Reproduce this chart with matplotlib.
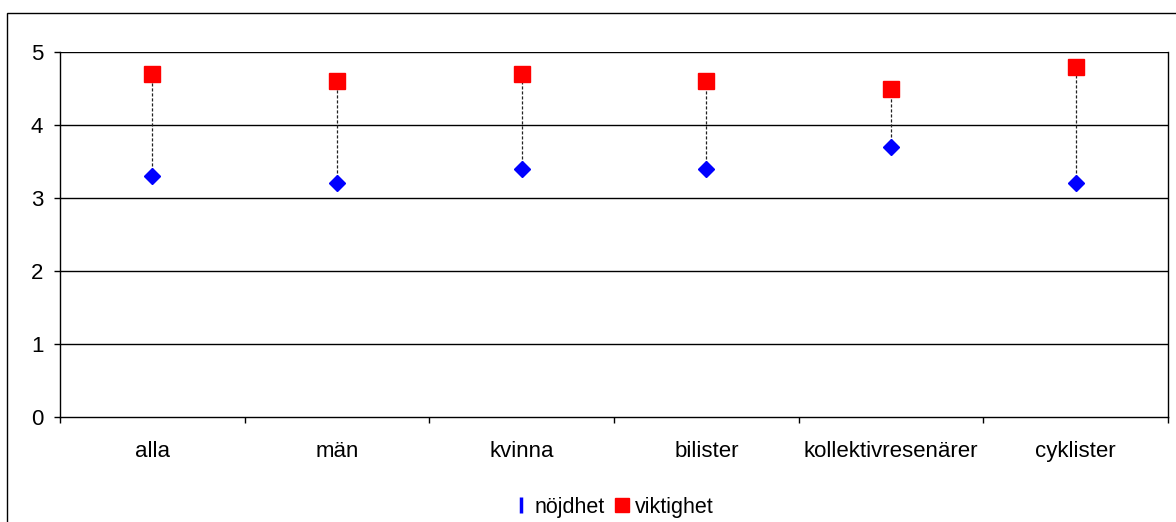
import matplotlib
matplotlib.use("Agg")
import matplotlib.pyplot as plt
from matplotlib.patches import Rectangle
from matplotlib.lines import Line2D

plt.rcParams['font.family'] = ['Liberation Sans', 'DejaVu Sans']

categories = ["alla", "män", "kvinna", "bilister", "kollektivresenärer", "cyklister"]
nojdhet = [3.3, 3.2, 3.4, 3.4, 3.7, 3.2]
viktighet = [4.7, 4.6, 4.7, 4.6, 4.5, 4.8]
y_ticks = [0, 1, 2, 3, 4, 5]

W, H = 1176, 522
fig = plt.figure(figsize=(W / 100, H / 100), dpi=100)
ax = fig.add_axes([60 / W, (H - 417) / H, 1108 / W, 365 / H])

x = list(range(len(categories)))

# connectors between the two ratings
for xi, lo, hi in zip(x, nojdhet, viktighet):
    ax.plot([xi, xi], [lo, hi], color="#222222", lw=0.9, ls=(0, (2.5, 1.5)), zorder=2)

ax.plot(x, nojdhet, ls="none", marker="D", ms=8, color="#0000ff", mec="#0000ff", zorder=3)
ax.plot(x, viktighet, ls="none", marker="s", ms=11.5, color="#ff0000", mec="#ff0000", zorder=3)

ax.set_xlim(-0.5, len(categories) - 0.5)
ax.set_ylim(0, 5)
ax.set_yticks(y_ticks)
ax.set_yticklabels([str(v) for v in y_ticks])
for v in y_ticks[1:]:
    ax.axhline(v, color="black", lw=1.0, zorder=1)

ax.set_xticks(x)
ax.set_xticklabels(categories)
ax.set_xticks([i - 0.5 for i in range(len(categories) + 1)], minor=True)
ax.tick_params(axis="x", which="major", length=0, pad=17, labelsize=16)
ax.tick_params(axis="x", which="minor", length=4, width=1, direction="out")
ax.tick_params(axis="y", length=4, width=1, direction="out", pad=8, labelsize=16)

for side in ["left", "right", "bottom"]:
    ax.spines[side].set_linewidth(1.0)
    ax.spines[side].set_color("black")
ax.spines["top"].set_visible(False)

handles = [
    Line2D([], [], ls="none", marker="|", ms=11, mew=2.5, color="#0000ff"),
    Line2D([], [], ls="none", marker="s", ms=9.5, color="#ff0000"),
]
fig.legend(handles, ["nöjdhet", "viktighet"], loc="center", bbox_to_anchor=(614 / W, 1 - 507 / H),
           ncol=2, frameon=False, fontsize=15.5, handlelength=0.6, handletextpad=0.3,
           columnspacing=0.5)

# outer chart frame
fig.patches.append(Rectangle((7 / W, -0.1), 2, (1 - 13 / H) + 0.1, transform=fig.transFigure,
                             fill=False, lw=1.0, ec="black"))

fig.savefig("out.png", dpi=100)
